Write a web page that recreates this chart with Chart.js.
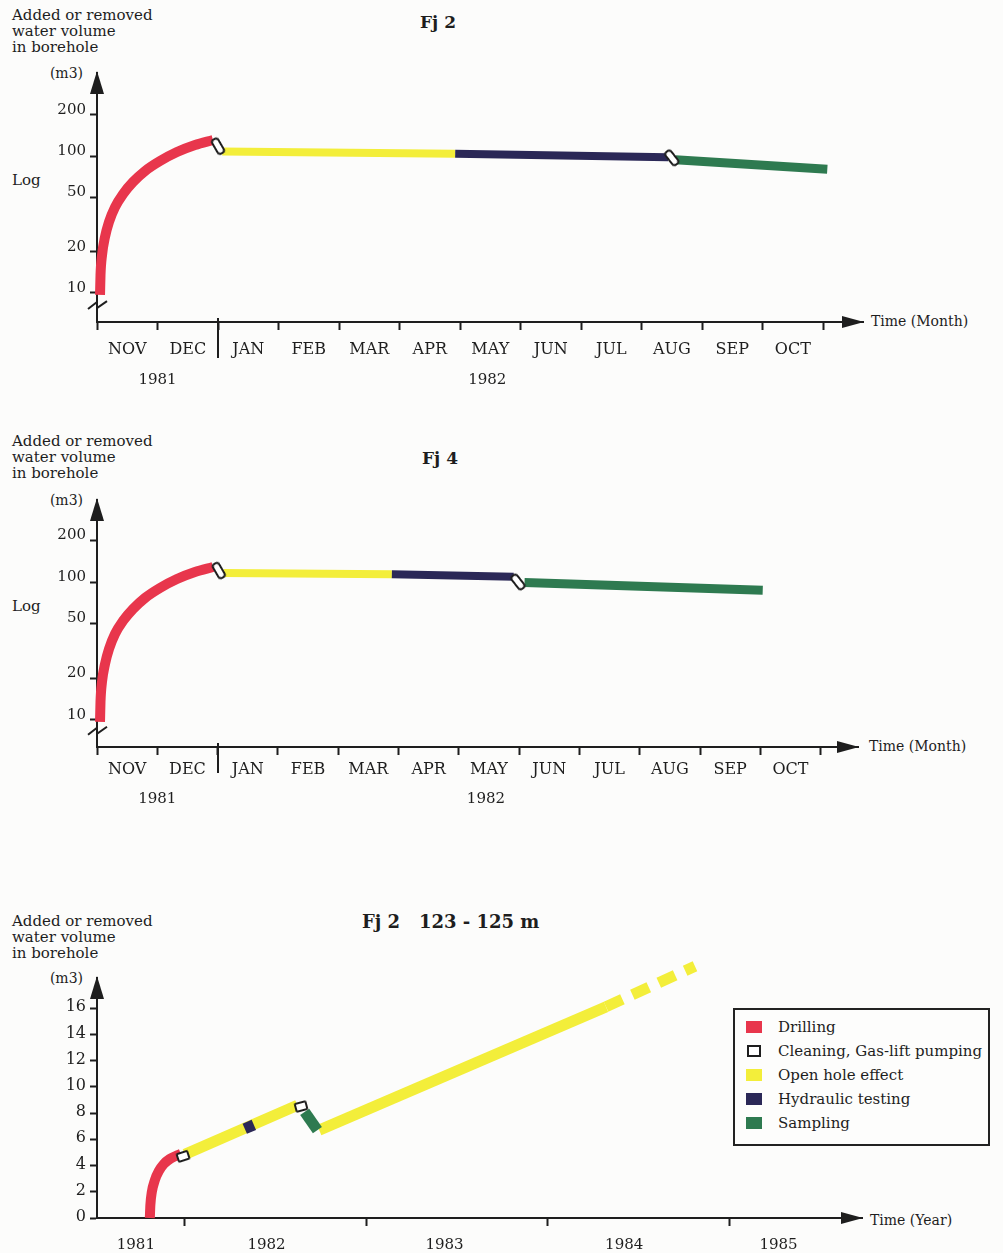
<!DOCTYPE html>
<html>
<head>
<meta charset="utf-8">
<script src="https://cdn.jsdelivr.net/npm/chart.js@4/dist/chart.umd.min.js"></script>
<style>
  html, body { margin: 0; padding: 0; background: #fcfcfb; }
  body { width: 1003px; height: 1253px; position: relative; overflow: hidden;
         font-family: "DejaVu Serif", "Liberation Serif", serif; color: #1e1e1e; }
  canvas { position: absolute; left: 0; }
  .t { position: absolute; white-space: pre; font-size: 15px; line-height: 16px; }
  .title { position: absolute; white-space: pre; font-size: 17px; font-weight: bold; line-height: 20px; }
  .unit { position: absolute; font-size: 14px; line-height: 16px; width: 60px; text-align: right; }
  #legend { position: absolute; left: 733px; top: 1008px; width: 257px; height: 138px;
            border: 2px solid #222; box-sizing: border-box; background: #fdfdfc; }
  #legend .row { position: absolute; left: 11px; height: 20px; font-size: 15px; line-height: 20px; white-space: nowrap; }
  #legend .sw { position: absolute; left: 0; top: 4px; width: 16px; height: 12px; box-sizing: border-box; }
  #legend .lab { position: absolute; left: 32px; top: 0; }
</style>
</head>
<body>

<!-- Fj 2 -->
<div class="t" style="left:12px;top:7px;">Added or removed
water volume
in borehole</div>
<div class="unit" style="left:23px;top:65px;">(m3)</div>
<div class="t" style="left:12px;top:172px;">Log</div>
<div class="title" style="left:420px;top:12px;">Fj 2</div>
<div class="t" style="left:871px;top:313px;font-size:14px;">Time (Month)</div>
<canvas id="c1" width="1003" height="410" style="top:0px;"></canvas>

<!-- Fj 4 -->
<div class="t" style="left:12px;top:433px;">Added or removed
water volume
in borehole</div>
<div class="unit" style="left:23px;top:492px;">(m3)</div>
<div class="t" style="left:12px;top:598px;">Log</div>
<div class="title" style="left:422px;top:448px;">Fj 4</div>
<div class="t" style="left:869px;top:738px;font-size:14px;">Time (Month)</div>
<canvas id="c2" width="1003" height="420" style="top:420px;"></canvas>

<!-- Fj 2, 123 - 125 m -->
<div class="t" style="left:12px;top:913px;">Added or removed
water volume
in borehole</div>
<div class="unit" style="left:23px;top:970px;">(m3)</div>
<div class="title" style="left:362px;top:912px;font-size:18px;">Fj 2   123 - 125 m</div>
<div class="t" style="left:870px;top:1212px;font-size:14px;">Time (Year)</div>
<canvas id="c3" width="1003" height="363" style="top:890px;"></canvas>

<div id="legend"></div>

<script>
// ---- categories and tick labels ----
const monthNames = ['NOV', 'DEC', 'JAN', 'FEB', 'MAR', 'APR', 'MAY', 'JUN', 'JUL', 'AUG', 'SEP', 'OCT'];
const monthTicks = [0, 1, 2, 3, 4, 5, 6, 7, 8, 9, 10, 11, 12];   // months since 1 Nov 1981
const yearNamesShort = ['1981', '1982'];
const yearNamesShortAt = [1.0, 6.45];
const logTicks = [10, 20, 50, 100, 200];
const linTicks = [0, 2, 4, 6, 8, 10, 12, 14, 16];
const yearTicks = [1982, 1983, 1984, 1985];
const yearNames = ['1981', '1982', '1983', '1984', '1985'];
const yearNamesAt = [1981.73, 1982.45, 1983.43, 1984.42, 1985.27];

const legendLabels = ['Drilling', 'Cleaning, Gas-lift pumping', 'Open hole effect', 'Hydraulic testing', 'Sampling'];

// ---- Fj 2 : [month, m3] ----
const fj2Drilling  = [[0.05, 9.7], [0.058, 13.5], [0.083, 18.9], [0.132, 25.6], [0.198, 33.0], [0.298, 42.4], [0.43, 52.8],
                      [0.595, 64.6], [0.793, 77.7], [1.041, 91.9], [1.322, 106.9], [1.62, 120.3], [1.917, 130.9]];
const fj2Cleaning  = [[2.00, 118], [9.50, 97]];
const fj2OpenHole  = [[2.07, 108], [5.92, 104]];
const fj2Hydraulic = [[5.92, 104], [9.44, 98]];
const fj2Sampling  = [[9.56, 94], [12.07, 80]];

// ---- Fj 4 : [month, m3] ----
const fj4Drilling  = [[0.05, 9.7], [0.058, 13.5], [0.083, 18.9], [0.133, 25.5], [0.199, 32.7], [0.298, 42.0], [0.431, 52.2],
                      [0.597, 63.7], [0.796, 76.6], [1.044, 90.5], [1.326, 105.1], [1.624, 118.2], [1.923, 128.4]];
const fj4Cleaning  = [[2.02, 121], [6.98, 100]];
const fj4OpenHole  = [[2.10, 116], [4.89, 114]];
const fj4Hydraulic = [[4.89, 114], [6.91, 109]];
const fj4Sampling  = [[7.09, 99], [11.04, 87]];

// ---- Fj 2, 123 - 125 m : [year, m3] ----
const secDrilling    = [[1981.807, 0], [1981.810, 0.99], [1981.818, 1.98], [1981.835, 2.90], [1981.857, 3.59],
                        [1981.884, 4.12], [1981.917, 4.50], [1981.950, 4.73], [1981.978, 4.89]];
const secCleaning    = [[1981.99, 4.7], [1982.64, 8.5]];
const secOpenHoleA   = [[1982.00, 4.85], [1982.62, 8.6]];
const secOpenHoleB   = [[1982.74, 6.7], [1984.32, 16.1]];
const secOpenHoleEst = [[1984.32, 16.1], [1984.81, 19.2]];
const secHydraulic   = [[1982.33, 6.8], [1982.38, 7.1]];
const secSampling    = [[1982.66, 8.1], [1982.73, 6.7]];

// ---- styling ----
const ink = '#1e1e1e';
const FONT = '"DejaVu Serif", "Liberation Serif", serif';
const C = { drill: '#e8364c', open: '#f3ee3a', hyd: '#2b2857', samp: '#2e7a50' };
const legendColors = [C.drill, '#ffffff', C.open, C.hyd, C.samp];

// white capsule with a dark outline, used for the cleaning stages
function capsule(w, h, r, lw) {
  const c = document.createElement('canvas');
  c.width = w + lw * 2 + 2; c.height = h + lw * 2 + 2;
  const g = c.getContext('2d');
  const x = lw + 1, y = lw + 1;
  g.beginPath();
  g.moveTo(x + r, y); g.lineTo(x + w - r, y); g.arcTo(x + w, y, x + w, y + r, r);
  g.lineTo(x + w, y + h - r); g.arcTo(x + w, y + h, x + w - r, y + h, r);
  g.lineTo(x + r, y + h); g.arcTo(x, y + h, x, y + h - r, r);
  g.lineTo(x, y + r); g.arcTo(x, y, x + r, y, r);
  g.closePath();
  g.fillStyle = '#ffffff'; g.fill();
  g.lineWidth = lw; g.strokeStyle = ink; g.stroke();
  return c;
}
const capTall = capsule(7, 16, 3, 2);
const capFlat = capsule(11, 8, 1, 2);

const pts = arr => arr.map(([x, y]) => ({ x, y }));
function seg(data, color, width, extra) {
  return Object.assign({
    type: 'line', data: pts(data), borderColor: color, backgroundColor: color,
    borderWidth: width, pointRadius: 0, borderCapStyle: 'butt', borderJoinStyle: 'round',
    fill: false, clip: false, order: 2, tension: 0
  }, extra || {});
}
function marks(data, img, rot) {
  return { type: 'scatter', data: pts(data), pointStyle: img, rotation: rot,
           pointRadius: 9, showLine: false, clip: false, order: 0 };
}

// arrows, axis break and year separator
const axisDecor = {
  id: 'axisDecor',
  afterDraw(chart, args, o) {
    const { ctx, chartArea: a } = chart;
    ctx.save();
    ctx.fillStyle = ink; ctx.strokeStyle = ink; ctx.lineWidth = 2;
    ctx.beginPath();
    ctx.moveTo(a.left, a.top - 2); ctx.lineTo(a.left - 7, a.top + 21); ctx.lineTo(a.left + 7, a.top + 21);
    ctx.closePath(); ctx.fill();
    ctx.beginPath();
    ctx.moveTo(a.right + 1, a.bottom); ctx.lineTo(a.right - 21, a.bottom - 6); ctx.lineTo(a.right - 21, a.bottom + 6);
    ctx.closePath(); ctx.fill();
    if (o.breakAt) {
      const y = chart.scales.y.getPixelForValue(o.breakAt);
      ctx.beginPath();
      ctx.moveTo(a.left - 9, y + 5); ctx.lineTo(a.left, y - 2);
      ctx.lineTo(a.left, y + 4); ctx.lineTo(a.left + 10, y - 3);
      ctx.stroke();
    }
    if (o.yearMark != null) {
      const x = Math.round(chart.scales.x.getPixelForValue(o.yearMark));
      ctx.beginPath(); ctx.moveTo(x, a.bottom - 4); ctx.lineTo(x, a.bottom + o.yearMarkLen); ctx.stroke();
    }
    ctx.restore();
  }
};

function fixedTicks(values) { return s => { s.ticks = values.map(v => ({ value: v })); }; }

function monthChart(id, d, geo) {
  const scales = {
    x: {
      type: 'linear', position: 'bottom', weight: 0, min: 0, max: geo.xMax,
      afterBuildTicks: fixedTicks(monthTicks),
      ticks: { callback: () => '', padding: 0, autoSkip: false },
      grid: { drawOnChartArea: false, drawTicks: true, tickLength: 8, tickColor: ink, tickWidth: 2 },
      border: { display: true, color: ink, width: 2 },
      afterFit: s => { s.height = 8; }
    },
    xm: {
      type: 'linear', position: 'bottom', weight: 1, min: 0, max: geo.xMax,
      afterBuildTicks: fixedTicks(monthNames.map((_, i) => i + 0.5)),
      ticks: { callback: (v, i) => monthNames[i], padding: geo.monthPad, autoSkip: false, maxRotation: 0,
               color: ink, font: { family: FONT, size: 16 } },
      grid: { display: false, drawTicks: false }, border: { display: false },
      afterFit: s => { s.height = geo.monthH; }
    },
    xy: {
      type: 'linear', position: 'bottom', weight: 2, min: 0, max: geo.xMax,
      afterBuildTicks: fixedTicks(yearNamesShortAt),
      ticks: { callback: (v, i) => yearNamesShort[i], padding: geo.yearPad, autoSkip: false, maxRotation: 0,
               color: ink, font: { family: FONT, size: 15 } },
      grid: { display: false, drawTicks: false }, border: { display: false },
      afterFit: s => { s.height = geo.yearH; }
    },
    y: {
      type: 'logarithmic', position: 'left', min: geo.yMin, max: geo.yMax,
      afterBuildTicks: fixedTicks(logTicks),
      ticks: { callback: v => String(v), padding: 4, labelOffset: -5, autoSkip: false,
               color: ink, font: { family: FONT, size: 15 } },
      grid: { drawOnChartArea: false, drawTicks: true, tickLength: 7, tickColor: ink, tickWidth: 2 },
      border: { display: true, color: ink, width: 2 },
      afterFit: s => { s.width = 97; }
    }
  };
  return new Chart(document.getElementById(id), {
    data: {
      datasets: [
        marks(d.cleaning, capTall, [-30, -38]),
        seg(d.hydraulic, C.hyd, 8, { order: 1 }),
        seg(d.drilling, C.drill, 10, { cubicInterpolationMode: 'monotone' }),
        seg(d.openHole, C.open, 8),
        seg(d.sampling, C.samp, 9)
      ]
    },
    options: {
      responsive: false, animation: false, events: [],
      layout: { padding: { left: 0, top: geo.top, right: geo.right, bottom: 0 } },
      scales,
      plugins: { legend: { display: false }, tooltip: { enabled: false },
                 axisDecor: { breakAt: geo.breakAt, yearMark: 2, yearMarkLen: geo.sepLen } }
    },
    plugins: [axisDecor]
  });
}

monthChart('c1',
  { drilling: fj2Drilling, cleaning: fj2Cleaning, openHole: fj2OpenHole, hydraulic: fj2Hydraulic, sampling: fj2Sampling },
  { xMax: 12.66, yMin: 6.14, yMax: 404, top: 73, right: 140, breakAt: 8.3, sepLen: 36,
    monthPad: 10, monthH: 36, yearPad: 5, yearH: 44 });

monthChart('c2',
  { drilling: fj4Drilling, cleaning: fj4Cleaning, openHole: fj4OpenHole, hydraulic: fj4Hydraulic, sampling: fj4Sampling },
  { xMax: 12.62, yMin: 6.37, yMax: 393, top: 80, right: 145, breakAt: 8.5, sepLen: 26,
    monthPad: 5, monthH: 30, yearPad: 5, yearH: 55 });

new Chart(document.getElementById('c3'), {
  data: {
    datasets: [
      marks(secCleaning, capFlat, [-18, -15]),
      seg(secHydraulic, C.hyd, 11, { order: 1 }),
      seg(secDrilling, C.drill, 10, { cubicInterpolationMode: 'monotone' }),
      seg(secSampling, C.samp, 11),
      seg(secOpenHoleA, C.open, 11),
      seg(secOpenHoleB, C.open, 11),
      seg(secOpenHoleEst, C.open, 11, { borderDash: [18, 11] })
    ]
  },
  options: {
    responsive: false, animation: false, events: [],
    layout: { padding: { left: 0, top: 88, right: 141, bottom: 0 } },
    scales: {
      x: {
        type: 'linear', position: 'bottom', weight: 0, min: 1981.516, max: 1985.73,
        afterBuildTicks: fixedTicks(yearTicks),
        ticks: { callback: () => '', padding: 0, autoSkip: false },
        grid: { drawOnChartArea: false, drawTicks: true, tickLength: 8, tickColor: ink, tickWidth: 2 },
        border: { display: true, color: ink, width: 2 },
        afterFit: s => { s.height = 8; }
      },
      xy: {
        type: 'linear', position: 'bottom', weight: 1, min: 1981.516, max: 1985.73,
        afterBuildTicks: fixedTicks(yearNamesAt),
        ticks: { callback: (v, i) => yearNames[i], padding: 10, autoSkip: false, maxRotation: 0,
                 color: ink, font: { family: FONT, size: 15 } },
        grid: { display: false, drawTicks: false }, border: { display: false },
        afterFit: s => { s.height = 27; }
      },
      y: {
        type: 'linear', position: 'left', min: 0, max: 18.3,
        afterBuildTicks: fixedTicks(linTicks),
        ticks: { callback: v => String(v), padding: 4, labelOffset: -1, autoSkip: false,
                 color: ink, font: { family: FONT, size: 16 } },
        grid: { drawOnChartArea: false, drawTicks: true, tickLength: 7, tickColor: ink, tickWidth: 2 },
        border: { display: true, color: ink, width: 2 },
        afterFit: s => { s.width = 97; }
      }
    },
    plugins: { legend: { display: false }, tooltip: { enabled: false }, axisDecor: {} }
  },
  plugins: [axisDecor]
});

// legend box
const lg = document.getElementById('legend');
legendLabels.forEach((name, i) => {
  const row = document.createElement('div');
  row.className = 'row';
  row.style.top = (7 + i * 24) + 'px';
  const sw = document.createElement('div');
  sw.className = 'sw';
  sw.style.background = legendColors[i];
  if (i === 1) { sw.style.border = '2px solid ' + ink; sw.style.width = '14px'; sw.style.left = '1px'; }
  const lab = document.createElement('span');
  lab.className = 'lab';
  lab.textContent = name;
  row.appendChild(sw); row.appendChild(lab);
  lg.appendChild(row);
});
</script>
</body>
</html>
